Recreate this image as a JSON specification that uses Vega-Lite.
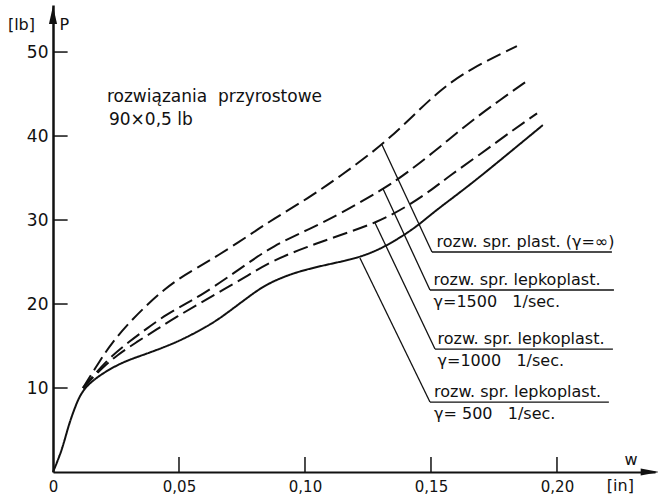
{
  "$schema": "https://vega.github.io/schema/vega-lite/v6.json",
  "width": 602,
  "height": 467,
  "autosize": "none",
  "padding": {"left": 53, "top": 5, "right": 3, "bottom": 25},
  "background": "white",
  "config": {"view": {"stroke": null}, "font": "DejaVu Sans"},
  "datasets": {
    "curves": [
      {"series": "500", "w": 0, "P": 0}, {"series": "500", "w": 0.0036, "P": 2.6}, {"series": "500", "w": 0.006, "P": 5.4}, {"series": "500", "w": 0.0087, "P": 7.7}, {"series": "500", "w": 0.0119, "P": 10.0}, {"series": "500", "w": 0.0198, "P": 11.8}, {"series": "500", "w": 0.0278, "P": 13.1}, {"series": "500", "w": 0.0345, "P": 13.8}, {"series": "500", "w": 0.0437, "P": 14.8}, {"series": "500", "w": 0.0516, "P": 15.8}, {"series": "500", "w": 0.0623, "P": 17.5}, {"series": "500", "w": 0.069, "P": 18.9}, {"series": "500", "w": 0.0782, "P": 21.0}, {"series": "500", "w": 0.0849, "P": 22.4}, {"series": "500", "w": 0.0952, "P": 23.7}, {"series": "500", "w": 0.1071, "P": 24.6}, {"series": "500", "w": 0.1218, "P": 25.5}, {"series": "500", "w": 0.1325, "P": 26.9}, {"series": "500", "w": 0.1444, "P": 29.2}, {"series": "500", "w": 0.1508, "P": 30.9}, {"series": "500", "w": 0.1643, "P": 33.9}, {"series": "500", "w": 0.1774, "P": 37.1}, {"series": "500", "w": 0.1944, "P": 41.3},
      {"series": "inf", "w": 0.0119, "P": 10.0}, {"series": "inf", "w": 0.0187, "P": 13.3}, {"series": "inf", "w": 0.0234, "P": 15.4}, {"series": "inf", "w": 0.0306, "P": 17.9}, {"series": "inf", "w": 0.0373, "P": 19.9}, {"series": "inf", "w": 0.0444, "P": 21.8}, {"series": "inf", "w": 0.0504, "P": 23.1}, {"series": "inf", "w": 0.0571, "P": 24.3}, {"series": "inf", "w": 0.0651, "P": 25.7}, {"series": "inf", "w": 0.0774, "P": 28.1}, {"series": "inf", "w": 0.0873, "P": 30.1}, {"series": "inf", "w": 0.1008, "P": 32.5}, {"series": "inf", "w": 0.1139, "P": 35.2}, {"series": "inf", "w": 0.1306, "P": 38.9}, {"series": "inf", "w": 0.1429, "P": 42.4}, {"series": "inf", "w": 0.1536, "P": 45.5}, {"series": "inf", "w": 0.1655, "P": 48.0}, {"series": "inf", "w": 0.1841, "P": 50.7},
      {"series": "1500", "w": 0.0119, "P": 10.0}, {"series": "1500", "w": 0.0218, "P": 13.5}, {"series": "1500", "w": 0.0306, "P": 15.6}, {"series": "1500", "w": 0.0373, "P": 17.1}, {"series": "1500", "w": 0.0452, "P": 18.8}, {"series": "1500", "w": 0.0532, "P": 20.1}, {"series": "1500", "w": 0.0595, "P": 21.2}, {"series": "1500", "w": 0.069, "P": 23.1}, {"series": "1500", "w": 0.077, "P": 24.8}, {"series": "1500", "w": 0.0873, "P": 26.9}, {"series": "1500", "w": 0.1008, "P": 28.8}, {"series": "1500", "w": 0.1139, "P": 30.7}, {"series": "1500", "w": 0.131, "P": 33.7}, {"series": "1500", "w": 0.1377, "P": 35.0}, {"series": "1500", "w": 0.1508, "P": 38.0}, {"series": "1500", "w": 0.1643, "P": 41.4}, {"series": "1500", "w": 0.1774, "P": 44.3}, {"series": "1500", "w": 0.1893, "P": 46.8},
      {"series": "1000", "w": 0.0119, "P": 10.0}, {"series": "1000", "w": 0.0198, "P": 12.5}, {"series": "1000", "w": 0.0254, "P": 13.9}, {"series": "1000", "w": 0.0333, "P": 15.5}, {"series": "1000", "w": 0.0413, "P": 17.0}, {"series": "1000", "w": 0.0492, "P": 18.5}, {"series": "1000", "w": 0.0583, "P": 20.1}, {"series": "1000", "w": 0.0675, "P": 21.7}, {"series": "1000", "w": 0.0774, "P": 23.4}, {"series": "1000", "w": 0.0873, "P": 25.2}, {"series": "1000", "w": 0.1008, "P": 26.8}, {"series": "1000", "w": 0.1139, "P": 28.2}, {"series": "1000", "w": 0.1286, "P": 29.7}, {"series": "1000", "w": 0.1405, "P": 31.6}, {"series": "1000", "w": 0.1508, "P": 33.7}, {"series": "1000", "w": 0.1575, "P": 35.3}, {"series": "1000", "w": 0.1694, "P": 37.8}, {"series": "1000", "w": 0.1825, "P": 40.7}, {"series": "1000", "w": 0.1921, "P": 42.7}
    ],
    "leaders": [
      {"w": 0.1306, "P": 38.93, "w2": 0.1504, "P2": 26.19}, {"w": 0.1504, "P": 26.19, "w2": 0.2218, "P2": 26.19},
      {"w": 0.1310, "P": 33.69, "w2": 0.1496, "P2": 21.67}, {"w": 0.1496, "P": 21.67, "w2": 0.2226, "P2": 21.67},
      {"w": 0.1278, "P": 29.64, "w2": 0.1516, "P2": 14.64}, {"w": 0.1516, "P": 14.64, "w2": 0.2222, "P2": 14.64},
      {"w": 0.1218, "P": 25.48, "w2": 0.1496, "P2": 8.33}, {"w": 0.1496, "P": 8.33, "w2": 0.2206, "P2": 8.33}
    ],
    "ticks": [
      {"w": 0.05, "P": 0, "w2": 0.05, "P2": 1.8}, {"w": 0.10, "P": 0, "w2": 0.10, "P2": 1.8}, {"w": 0.15, "P": 0, "w2": 0.15, "P2": 1.8}, {"w": 0.20, "P": 0, "w2": 0.20, "P2": 1.8},
      {"w": 0, "P": 10, "w2": 0.0058, "P2": 10}, {"w": 0, "P": 20, "w2": 0.0058, "P2": 20}, {"w": 0, "P": 30, "w2": 0.0058, "P2": 30}, {"w": 0, "P": 40, "w2": 0.0058, "P2": 40}, {"w": 0, "P": 50, "w2": 0.0058, "P2": 50}
    ],
    "labels": [
      {"line": "upper", "w": 0.1522, "P": 26.19, "text": "rozw. spr. plast. (γ=∞)"},
      {"line": "upper", "w": 0.1510, "P": 21.67, "text": "rozw. spr. lepkoplast."},
      {"line": "lower", "w": 0.1510, "P": 21.67, "text": "γ=1500\u00a0\u00a0\u00a01/sec."},
      {"line": "upper", "w": 0.1526, "P": 14.64, "text": "rozw. spr. lepkoplast."},
      {"line": "lower", "w": 0.1526, "P": 14.64, "text": "γ=1000\u00a0\u00a0\u00a01/sec."},
      {"line": "upper", "w": 0.1512, "P": 8.33, "text": "rozw. spr. lepkoplast."},
      {"line": "lower", "w": 0.1512, "P": 8.33, "text": "γ=\u00a0500\u00a0\u00a0\u00a01/sec."}
    ],
    "notes": [
      {"w": 0.0214, "P": 44.05, "text": "rozwiązania\u00a0\u00a0przyrostowe"},
      {"w": 0.0222, "P": 41.3, "text": "90×0,5 lb"}
    ],
    "captions": [
      {"w": -0.0179, "P": 52.6, "text": "[lb]"},
      {"w": 0.0026, "P": 52.6, "text": "P"},
      {"w": 0.2268, "P": 0.83, "text": "w"},
      {"w": 0.2198, "P": -2.26, "text": "[in]"}
    ],
    "arrowUp": [{"w": 0, "P": 54.4}],
    "arrowRight": [{"w": 0.2368, "P": 0}]
  },
  "encoding": {
    "x": {"field": "w", "type": "quantitative", "scale": {"domain": [0, 0.2389], "nice": false, "zero": false},
      "axis": {"title": null, "values": [0, 0.05, 0.1, 0.15, 0.2], "ticks": false, "grid": false, "domainColor": "#111", "domainWidth": 2, "labelFlush": false,
        "labelExpr": "datum.value == 0 ? '0' : replace(format(datum.value, '.2f'), '.', ',')", "labelFontSize": 15, "labelColor": "#111", "labelPadding": 7, "labelFont": "DejaVu Sans"}},
    "y": {"field": "P", "type": "quantitative", "scale": {"domain": [0, 55.6], "nice": false, "zero": false},
      "axis": {"title": null, "values": [10, 20, 30, 40, 50], "ticks": false, "grid": false, "domainColor": "#111", "domainWidth": 2.5, "labelFlush": false,
        "labelFontSize": 17, "labelColor": "#111", "labelPadding": 5, "labelFont": "DejaVu Sans"}}
  },
  "layer": [
    {
      "data": {"name": "curves"},
      "mark": {"type": "line", "interpolate": "basis", "color": "#111", "strokeWidth": 2},
      "encoding": {
        "detail": {"field": "series"},
        "strokeDash": {"field": "series", "type": "nominal", "legend": null,
          "scale": {"domain": ["inf", "1500", "1000", "500"], "range": [[15, 6], [15, 6], [15, 6], [1, 0]]}}
      }
    },
    {
      "data": {"name": "leaders"},
      "mark": {"type": "rule", "color": "#111", "strokeWidth": 1.3},
      "encoding": {"x2": {"field": "w2"}, "y2": {"field": "P2"}}
    },
    {
      "data": {"name": "ticks"},
      "mark": {"type": "rule", "color": "#111", "strokeWidth": 1.5},
      "encoding": {"x2": {"field": "w2"}, "y2": {"field": "P2"}}
    },
    {
      "data": {"name": "labels"},
      "transform": [{"filter": "datum.line == 'upper'"}],
      "mark": {"type": "text", "align": "left", "baseline": "alphabetic", "dy": -5, "fontSize": 16, "color": "#111", "font": "DejaVu Sans"},
      "encoding": {"text": {"field": "text"}}
    },
    {
      "data": {"name": "labels"},
      "transform": [{"filter": "datum.line == 'lower'"}],
      "mark": {"type": "text", "align": "left", "baseline": "top", "dy": 4, "fontSize": 16, "color": "#111", "font": "DejaVu Sans"},
      "encoding": {"text": {"field": "text"}}
    },
    {
      "data": {"name": "notes"},
      "mark": {"type": "text", "align": "left", "baseline": "alphabetic", "fontSize": 17, "color": "#111", "font": "DejaVu Sans"},
      "encoding": {"text": {"field": "text"}}
    },
    {
      "data": {"name": "captions"},
      "mark": {"type": "text", "align": "left", "baseline": "alphabetic", "fontSize": 16, "color": "#111", "font": "DejaVu Sans"},
      "encoding": {"text": {"field": "text"}}
    },
    {
      "data": {"name": "arrowUp"},
      "mark": {"type": "point", "shape": "M0,-1L0.45,1L-0.45,1Z", "filled": true, "size": 324, "color": "#111", "opacity": 1}
    },
    {
      "data": {"name": "arrowRight"},
      "mark": {"type": "point", "shape": "M1,0L-1,0.4L-1,-0.4Z", "filled": true, "size": 324, "color": "#111", "opacity": 1}
    }
  ]
}
